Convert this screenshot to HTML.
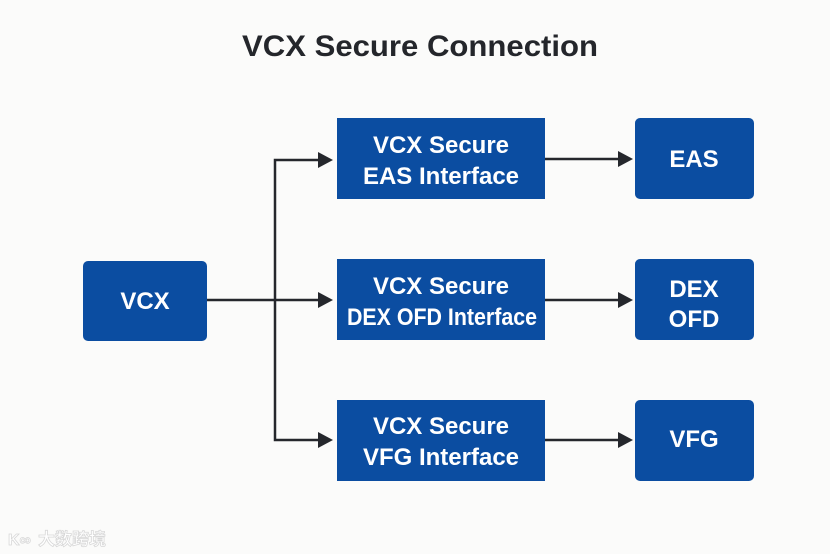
<!DOCTYPE html>
<html><head><meta charset="utf-8"><style>
html,body{margin:0;padding:0;background:#fcfcfc;}
svg{display:block;}
text{font-family:"Liberation Sans","Noto Sans CJK SC",sans-serif;font-weight:bold;}
</style></head><body>
<svg width="830" height="554" viewBox="0 0 830 554" xmlns="http://www.w3.org/2000/svg">
<rect width="830" height="554" fill="#fbfbfa"/>
<text x="420" y="56" text-anchor="middle" font-size="30" fill="#24262b" textLength="356" lengthAdjust="spacingAndGlyphs">VCX Secure Connection</text>
<g fill="#0b4da1">
<rect x="83" y="261" width="124" height="80" rx="5"/>
<rect x="337" y="118" width="208" height="81"/>
<rect x="337" y="259" width="208" height="81"/>
<rect x="337" y="400" width="208" height="81"/>
<rect x="635" y="118" width="119" height="81" rx="5"/>
<rect x="635" y="259" width="119" height="81" rx="5"/>
<rect x="635" y="400" width="119" height="81" rx="5"/>
</g>
<g stroke="#25272c" stroke-width="2.5" fill="none">
<line x1="207" y1="300" x2="320" y2="300"/>
<polyline points="320,160 275,160 275,440 320,440"/>
<line x1="545" y1="159" x2="620" y2="159"/>
<line x1="545" y1="300" x2="620" y2="300"/>
<line x1="545" y1="440" x2="620" y2="440"/>
</g>
<g fill="#25272c">
<polygon points="318,152 333,160 318,168"/>
<polygon points="318,292 333,300 318,308"/>
<polygon points="318,432 333,440 318,448"/>
<polygon points="618,151 633,159 618,167"/>
<polygon points="618,292 633,300 618,308"/>
<polygon points="618,432 633,440 618,448"/>
</g>
<g fill="#fff" font-size="24" text-anchor="middle">
<text x="145" y="309">VCX</text>
<text x="441" y="153">VCX Secure</text>
<text x="441" y="184">EAS Interface</text>
<text x="441" y="294">VCX Secure</text>
<text x="442" y="325" textLength="190" lengthAdjust="spacingAndGlyphs">DEX OFD Interface</text>
<text x="441" y="434">VCX Secure</text>
<text x="441" y="465">VFG Interface</text>
<text x="694" y="167">EAS</text>
<text x="694" y="297">DEX</text>
<text x="694" y="327">OFD</text>
<text x="694" y="447">VFG</text>
</g>
<text x="38" y="545" font-size="17" fill="#ffffff" stroke="#d8d8d8" stroke-width="0.8" font-weight="normal">大数跨境</text>
<text x="8" y="545" font-size="16" fill="#fff" stroke="#d8d8d8" stroke-width="0.8">K∞</text>
</svg>
</body></html>
